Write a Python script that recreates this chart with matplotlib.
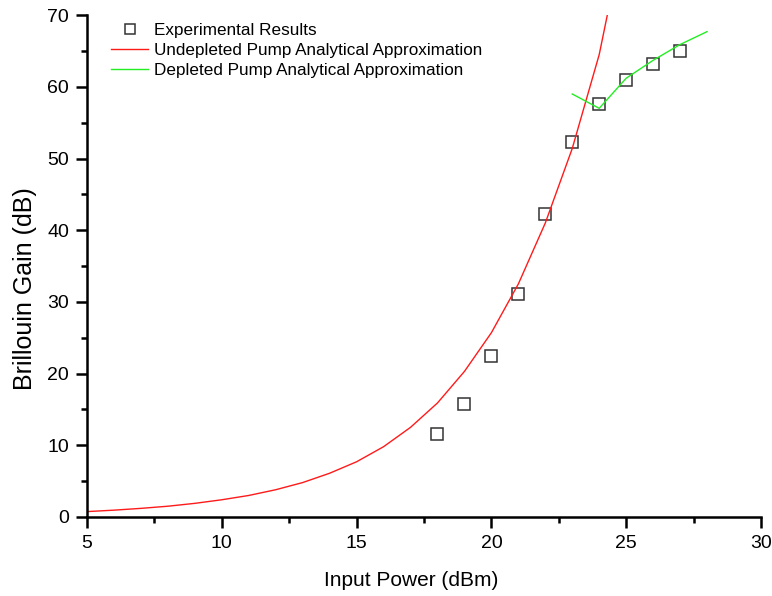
import matplotlib.pyplot as plt
import numpy as np

plt.rcParams['font.family'] = ['Liberation Sans', 'DejaVu Sans']

# Experimental points
exp_power = [18, 19, 20, 21, 22, 23, 24, 25, 26, 27]
exp_gain = [11.6, 15.8, 22.4, 31.1, 42.3, 52.3, 57.6, 60.9, 63.2, 65.0]

# Undepleted pump approximation
undep_power = [5, 6, 7, 8, 9, 10, 11, 12, 13, 14, 15, 16, 17, 18, 19, 20, 21, 22, 23, 24, 24.3]
undep_gain = [0.75, 0.95, 1.2, 1.5, 1.9, 2.4, 3.0, 3.8, 4.8, 6.1, 7.7, 9.8, 12.5, 15.9, 20.3,
              25.7, 32.5, 41.0, 51.4, 64.5, 70.0]

# Depleted pump approximation
dep_power = [23, 24, 25, 26, 27, 28]
dep_gain = [59.0, 57.0, 61.2, 63.7, 65.9, 67.7]

fig = plt.figure(figsize=(7.72, 5.96), dpi=100)
ax = fig.add_axes([0.1127, 0.1326, 0.873, 0.842])

ax.plot(exp_power, exp_gain, linestyle='none', marker='s', markersize=8.5,
        markerfacecolor='none', markeredgecolor='#333333', markeredgewidth=1.1,
        label='Experimental Results')
ax.plot(undep_power, undep_gain, color='#ff1a1a', linewidth=1.0,
        label='Undepleted Pump Analytical Approximation')
ax.plot(dep_power, dep_gain, color='#22ee22', linewidth=1.0,
        label='Depleted Pump Analytical Approximation')

ax.set_xlim(5, 30)
ax.set_ylim(0, 70)
ax.set_xticks([5, 10, 15, 20, 25, 30])
ax.set_xticks(np.arange(7.5, 30, 5), minor=True)
ax.set_yticks(np.arange(0, 71, 10))
ax.set_yticks(np.arange(5, 70, 10), minor=True)

for side in ['top', 'right']:
    ax.spines[side].set_visible(False)
for side in ['left', 'bottom']:
    ax.spines[side].set_linewidth(1.8)

ax.tick_params(which='major', direction='out', length=8, width=1.8, labelsize=14, pad=5)
ax.tick_params(which='minor', direction='out', length=4, width=1.8)

ax.set_xlabel('Input Power (dBm)', fontsize=15, va='baseline')
ax.xaxis.set_label_coords(0.481, -0.137)
ax.set_ylabel('Brillouin Gain (dB)', fontsize=18, va='center')
ax.yaxis.set_label_coords(-0.092, 0.455)

leg = ax.legend(loc='upper left', bbox_to_anchor=(0.02, 1.005), frameon=False, fontsize=12.3,
                handlelength=2.2, handletextpad=0.35, labelspacing=0.3, borderaxespad=0.2)
leg.legend_handles[0].set_markersize(7)

fig.savefig('out.png', dpi=100)
